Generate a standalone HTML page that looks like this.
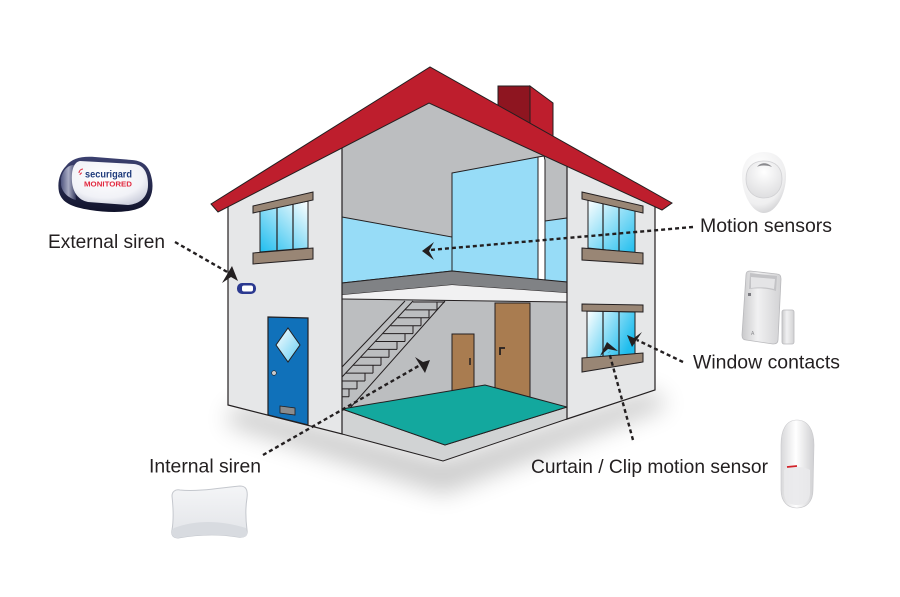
<!DOCTYPE html>
<html><head><meta charset="utf-8"><style>
html,body{margin:0;padding:0;background:#fff;}
svg{display:block;}
text{font-family:"Liberation Sans",Arial,sans-serif;fill:#231f20;}
</style></head><body>
<svg width="900" height="597" viewBox="0 0 900 597" xmlns="http://www.w3.org/2000/svg">
<defs>
<filter id="blur" x="-30%" y="-80%" width="160%" height="260%"><feGaussianBlur stdDeviation="12"/></filter>
<linearGradient id="glassL" x1="1" y1="0" x2="0" y2="1"><stop offset="0" stop-color="#ffffff"/><stop offset="1" stop-color="#1fbdee"/></linearGradient>
<linearGradient id="glassR" x1="0" y1="0" x2="1" y2="1"><stop offset="0" stop-color="#ffffff"/><stop offset="1" stop-color="#1fbdee"/></linearGradient>
<linearGradient id="glassR2" x1="0" y1="0" x2="1" y2="0.5"><stop offset="0" stop-color="#ffffff"/><stop offset="1" stop-color="#1fbdee"/></linearGradient>
<linearGradient id="diam" x1="0" y1="0" x2="1" y2="1"><stop offset="0" stop-color="#ffffff"/><stop offset="1" stop-color="#62cdf3"/></linearGradient>
<clipPath id="gclip"><rect x="342" y="299" width="225" height="120"/></clipPath>
<linearGradient id="sirDark" x1="0" y1="0" x2="0" y2="1"><stop offset="0" stop-color="#3c4170"/><stop offset="1" stop-color="#10122a"/></linearGradient>
<linearGradient id="sirGloss" x1="0" y1="0" x2="1" y2="0"><stop offset="0" stop-color="#5b618c"/><stop offset="0.5" stop-color="#c9cce0"/><stop offset="1" stop-color="#3a3f66"/></linearGradient>
<radialGradient id="sirTop" cx="0.45" cy="0.35" r="0.75"><stop offset="0" stop-color="#ffffff"/><stop offset="0.65" stop-color="#f1f2f7"/><stop offset="1" stop-color="#c4c7d6"/></radialGradient>
<radialGradient id="pirG" cx="0.4" cy="0.3" r="0.8"><stop offset="0" stop-color="#ffffff"/><stop offset="0.7" stop-color="#efeff0"/><stop offset="1" stop-color="#c6c6c9"/></radialGradient>
<radialGradient id="pirLens" cx="0.5" cy="0.3" r="0.7"><stop offset="0" stop-color="#ffffff"/><stop offset="1" stop-color="#dedee0"/></radialGradient>
<linearGradient id="wcG" x1="0" y1="0" x2="1" y2="0"><stop offset="0" stop-color="#c9c9cb"/><stop offset="0.4" stop-color="#f1f1f2"/><stop offset="1" stop-color="#d2d2d4"/></linearGradient>
<linearGradient id="curG" x1="0" y1="0" x2="1" y2="0"><stop offset="0" stop-color="#d8d8da"/><stop offset="0.45" stop-color="#ffffff"/><stop offset="1" stop-color="#cfcfd2"/></linearGradient>
<linearGradient id="isG" x1="0" y1="0" x2="0" y2="1"><stop offset="0" stop-color="#f4f5f7"/><stop offset="1" stop-color="#e2e4e8"/></linearGradient>
</defs>
<rect width="900" height="597" fill="#fff"/>

<!-- shadow -->
<polygon points="236,404 443,460 652,390 668,406 443,494 226,424" fill="#000" opacity="0.2" filter="url(#blur)"/>

<!-- chimney -->
<polygon points="498,86 530,86 530,130 498,115" fill="#8e1520" stroke="#231f20" stroke-width="1"/>
<polygon points="530,86 553,103 553,140 530,130" fill="#be1e2d" stroke="#231f20" stroke-width="1"/>

<!-- upper interior -->
<polygon points="342,147 429,103 567,166 567,288 342,288" fill="#bcbec0"/>
<polygon points="342,217 452,237 452,271 342,283" fill="#97dcf7" stroke="#231f20" stroke-width="1"/>
<polygon points="452,173 538,157 538,281 452,271" fill="#97dcf7" stroke="#231f20" stroke-width="1"/>
<polygon points="545,221 567,218 567,282 545,281" fill="#97dcf7" stroke="#231f20" stroke-width="1"/>
<polygon points="538,157 544,156 545,160 545,290 538,290" fill="#ffffff" stroke="#231f20" stroke-width="1"/>
<!-- slab -->
<polygon points="342,283 452,271 567,282 567,293 452,285 342,295" fill="#808285" stroke="#231f20" stroke-width="1"/>
<polygon points="342,295 452,285 567,293 567,302 342,299" fill="#f1f1f2"/>

<!-- ground floor back -->
<polygon points="342,299 567,302 567,420 342,420" fill="#bcbec0"/>
<line x1="342" y1="299" x2="567" y2="302" stroke="#231f20" stroke-width="1"/>

<!-- stairs -->
<g clip-path="url(#gclip)" stroke="#231f20" stroke-width="1" fill="none">
<path d="M342,367 L405,301 M342,377 L413,301 M350,408 L445,301"/>
<path d="M413,302 H445 M437,302 V309.9
M405.5,309.9 H437 M429,309.9 V317.8
M398,317.8 H429 M421,317.8 V325.7
M390.6,325.7 H421 M413,325.7 V333.6
M383.1,333.6 H413 M405,333.6 V341.5
M375.6,341.5 H405 M397,341.5 V349.4
M368.1,349.4 H397 M389,349.4 V357.3
M360.6,357.3 H389 M381,357.3 V365.2
M353.2,365.2 H381 M373,365.2 V373.1
M345.7,373.1 H373 M365,373.1 V381
M338,381 H365 M357,381 V388.9
M338,388.9 H357 M349,388.9 V396.8
M338,396.8 H349 M341,396.8 V404.7"/>
</g>

<!-- interior doors -->
<rect x="452" y="334" width="22" height="62" fill="#a97c50" stroke="#231f20" stroke-width="1"/>
<line x1="470" y1="358" x2="470" y2="365" stroke="#231f20" stroke-width="1.5"/>
<rect x="495" y="303" width="35" height="98" fill="#a97c50" stroke="#231f20" stroke-width="1"/>
<path d="M500,355 V348 H505" fill="none" stroke="#231f20" stroke-width="1.8"/>

<!-- floor -->
<polygon points="342,409 445,445 567,407 567,419 443,461 342,434" fill="#d1d3d4" stroke="#231f20" stroke-width="1"/>
<polygon points="342,409 485,385 567,407 445,445" fill="#13a89e" stroke="#231f20" stroke-width="1"/>

<!-- walls -->
<polygon points="228,200 342,144 342,434 228,405" fill="#e6e7e8" stroke="#231f20" stroke-width="1.2"/>
<polygon points="567,160 655,195 655,390 567,419" fill="#e6e7e8" stroke="#231f20" stroke-width="1.2"/>

<!-- left window -->
<polygon points="260,211 308,201 308,248 260,252" fill="url(#glassL)" stroke="#231f20" stroke-width="1"/>
<line x1="277" y1="208" x2="277" y2="251" stroke="#231f20" stroke-width="1.2"/>
<line x1="293" y1="204" x2="293" y2="250" stroke="#231f20" stroke-width="1.2"/>
<polygon points="253,206 313,192 313,200 253,213" fill="#998675" stroke="#231f20" stroke-width="1"/>
<polygon points="253,253 313,248 313,259 253,264" fill="#998675" stroke="#231f20" stroke-width="1"/>

<!-- right upper window -->
<polygon points="588,199 635,209 635,253 588,248" fill="url(#glassR)" stroke="#231f20" stroke-width="1"/>
<line x1="603" y1="202" x2="603" y2="250" stroke="#231f20" stroke-width="1.2"/>
<line x1="619" y1="205" x2="619" y2="252" stroke="#231f20" stroke-width="1.2"/>
<polygon points="582,192 643,206 643,213 582,199" fill="#998675" stroke="#231f20" stroke-width="1"/>
<polygon points="582,248 643,253 643,264 582,260" fill="#998675" stroke="#231f20" stroke-width="1"/>

<!-- right lower window -->
<polygon points="587,311 635,312 635,354 587,359" fill="url(#glassR2)" stroke="#231f20" stroke-width="1"/>
<line x1="603" y1="311" x2="603" y2="357" stroke="#231f20" stroke-width="1.2"/>
<line x1="619" y1="311" x2="619" y2="356" stroke="#231f20" stroke-width="1.2"/>
<polygon points="582,304 643,305 643,312 582,311" fill="#998675" stroke="#231f20" stroke-width="1"/>
<polygon points="582,358 643,353 643,362 582,372" fill="#998675" stroke="#231f20" stroke-width="1"/>

<!-- front door -->
<polygon points="268,317 308,318 308,425 268,415" fill="#1071ba" stroke="#231f20" stroke-width="1.2"/>
<polygon points="288,328 300,345 288,362 276,345" fill="url(#diam)" stroke="#231f20" stroke-width="1"/>
<circle cx="274" cy="373" r="2.3" fill="#c9cacc" stroke="#231f20" stroke-width="0.6"/>
<polygon points="280,406 295,408 295,415 280,413" fill="#8a8c8e" stroke="#231f20" stroke-width="0.8"/>

<!-- external siren icon -->
<rect x="237" y="283" width="19" height="11" rx="5" fill="#2b3990"/>
<rect x="242" y="285.5" width="11" height="6" rx="2" fill="#ffffff"/>

<!-- roof -->
<polygon points="211,204 430,67 672,203 662,210 429,103 218,212" fill="#be1e2d" stroke="#231f20" stroke-width="1"/>

<!-- connectors -->
<g stroke="#231f20" stroke-width="2.4" stroke-dasharray="4 3" fill="none">
<line x1="175" y1="242" x2="229" y2="273"/>
<line x1="693" y1="227" x2="430" y2="250"/>
<line x1="683" y1="362" x2="637" y2="340"/>
<line x1="633" y1="440" x2="609" y2="352"/>
<line x1="263" y1="455" x2="422" y2="364"/>
</g>
<g fill="#231f20">
<polygon points="232,266 238,281 231,277 222,283"/>
<polygon points="422,251 434,242 429,251 434,260"/>
<polygon points="632,347 627,335 634,338 642,332"/>
<polygon points="607,342 618,351 608,349 600,356"/>
<polygon points="425,373 415,357 423,362 430,360"/>
</g>

<!-- labels -->
<text x="48" y="248" font-size="19.5" textLength="117" lengthAdjust="spacingAndGlyphs">External siren</text>
<text x="700" y="232" font-size="19.5" textLength="132" lengthAdjust="spacingAndGlyphs">Motion sensors</text>
<text x="693" y="368.5" font-size="19.5" textLength="147" lengthAdjust="spacingAndGlyphs">Window contacts</text>
<text x="531" y="473" font-size="19.5" textLength="237" lengthAdjust="spacingAndGlyphs">Curtain / Clip motion sensor</text>
<text x="149" y="472.5" font-size="19.5" textLength="112" lengthAdjust="spacingAndGlyphs">Internal siren</text>

<!-- product: external siren -->
<path d="M66,166 C72,158 82,156 95,157 L132,160 C145,161 150,168 152,180 C154,192 150,202 142,207 C130,213 110,213 90,210 C72,207 62,203 59,192 C57,182 60,172 66,166 Z" fill="url(#sirDark)"/>
<path d="M61,178 C63,170 68,165 74,165 L76,200 C68,198 62,192 61,185 Z" fill="url(#sirGloss)" opacity="0.8"/>
<path d="M80,161 L134,164 C144,165 148,173 148,185 C148,197 140,204 128,205 L88,202 C78,200 73,192 72,182 C71,170 74,162 80,161 Z" fill="url(#sirTop)"/>
<path d="M79,173 a4,4 0 0 1 4,-4 M80,175 a2,2 0 0 1 2,-2" stroke="#e2283e" stroke-width="1" fill="none"/>
<text x="85" y="177.5" font-size="10.5" font-weight="bold" textLength="47" lengthAdjust="spacingAndGlyphs" style="fill:#1e3a7b">securigard</text>
<text x="84" y="186.5" font-size="7" font-weight="bold" textLength="48" lengthAdjust="spacingAndGlyphs" style="fill:#e2283e">MONITORED</text>

<!-- product: motion sensor -->
<path d="M764,152 C778,152 786,162 786,176 C786,194 776,213 764,213 C752,213 742,194 742,176 C742,162 750,152 764,152 Z" fill="url(#pirG)"/>
<path d="M764,161 C776,161 782,168 782,179 C782,190 775,198 764,198 C753,198 746,190 746,179 C746,168 752,161 764,161 Z" fill="url(#pirLens)" stroke="#d0d0d3" stroke-width="0.8"/>
<path d="M757,167 C760,162 768,162 772,167 C768,165 760,165 757,167 Z" fill="#8a8a8e"/>

<!-- product: window contact -->
<path d="M750,271 L777,274 C780,274 781,276 781,279 L778,340 C778,343 776,344 773,344 L746,340 C743,340 742,338 742,335 L746,275 C746,272 748,271 750,271 Z" fill="url(#wcG)" stroke="#b9b9bc" stroke-width="0.8"/>
<path d="M750,273 L777,276 L776,291 C768,288 758,288 749,289 Z" fill="#c3c3c6"/>
<path d="M751,277 L775,279 L774,289 C767,287 758,287 751,288 Z" fill="#e4e4e6"/>
<rect x="748" y="293" width="3" height="3" fill="#7b7b80"/>
<text x="751" y="335" font-size="5" style="fill:#8a8a8e">A</text>
<rect x="782" y="310" width="12" height="34" rx="2" fill="url(#wcG)" stroke="#b9b9bc" stroke-width="0.8"/>

<!-- product: curtain sensor -->
<path d="M797,420 C808,420 814,430 814,445 L813,490 C813,502 806,508 797,508 C788,508 781,502 781,490 L781,445 C781,430 786,420 797,420 Z" fill="url(#curG)" stroke="#c8c8cb" stroke-width="0.6"/>
<path d="M784,470 C790,466 804,466 810,470 L810,492 C810,502 804,505 797,505 C790,505 784,502 784,492 Z" fill="#e9e9eb" opacity="0.9"/>
<path d="M787,467 L797,466" stroke="#d2232a" stroke-width="1.8"/>

<!-- product: internal siren -->
<path d="M180,490 C200,492 225,487 240,486 C246,486 248,490 247,498 C245,510 246,522 247,530 C248,536 244,538 238,537 C220,534 200,534 178,538 C173,538 171,535 172,530 C174,518 173,505 172,496 C172,492 175,489 180,490 Z" fill="url(#isG)" stroke="#c4c7cd" stroke-width="1"/>
<path d="M174,528 C195,520 220,520 246,528 L247,532 C248,537 244,538 238,537 C220,534 200,534 178,538 C173,538 171,535 172,530 Z" fill="#d8dbe0"/>
</svg>
</body></html>
